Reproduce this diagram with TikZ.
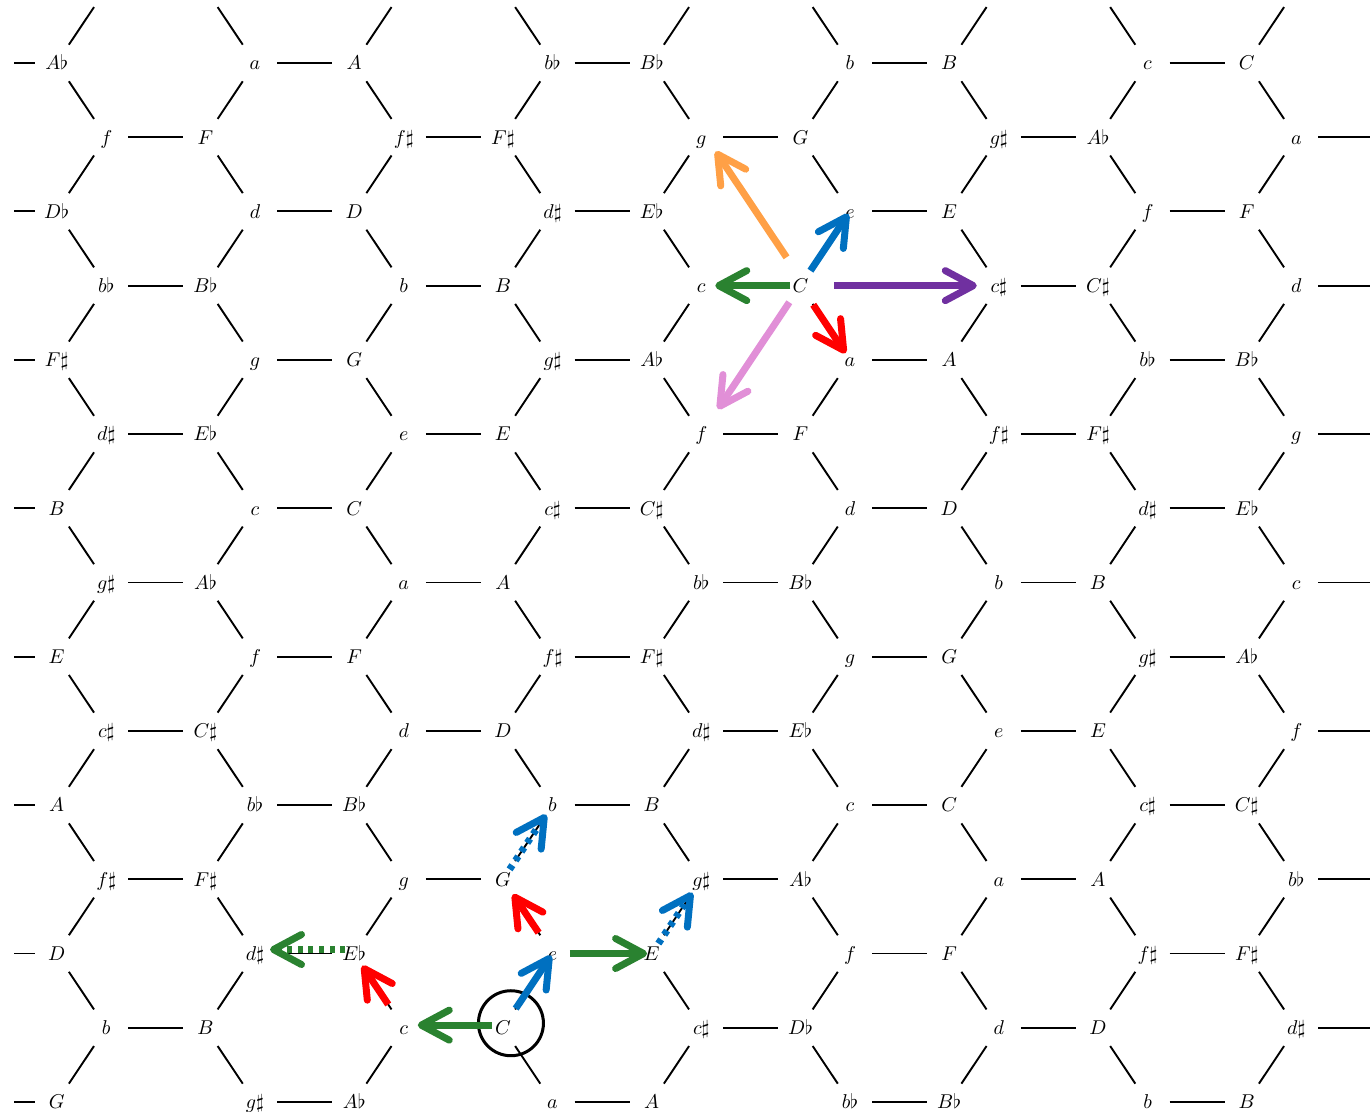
\documentclass[tikz,border=0pt]{standalone}
\usetikzlibrary{arrows.meta}
\definecolor{cOrange}{RGB}{255,160,70}
\definecolor{cBlue}{RGB}{0,112,192}
\definecolor{cGreen}{RGB}{42,130,48}
\definecolor{cPurple}{RGB}{112,48,160}
\definecolor{cRed}{RGB}{255,0,0}
\definecolor{cPink}{RGB}{225,143,215}
\tikzset{
  lab/.style={inner sep=0pt, anchor=center, text height=6.8pt, text depth=0pt, font=\normalsize},
  hexedge/.style={line width=0.95pt, shorten <=11pt, shorten >=11pt},
  arr/.style={line width=3.5pt, -{Straight Barb[length=14pt,width=15pt,round]}},
  dotarr/.style={arr, dash pattern=on 2.5pt off 2.8pt},
  ring/.style={draw, circle, line width=1.5pt, minimum size=32.5pt, inner sep=0pt}
}
\def\accs{\sharp}
\def\accb{\flat}
\def\accn{}
\newcommand\labrow[2]{%
  \foreach \j/\tt/\aa in {#2} {%
    \node[lab] (n-#1-\j) at (v-#1-\j) {$\tt\csname acc\aa\endcsname$};%
  }%
}
\begin{document}
\begin{tikzpicture}[x=0.5pt,y=-0.5pt]
\useasboundingbox (0,0) rectangle (1370,1112);
\begin{scope}
\clip (14,0) rectangle (1370,1112);
% lattice points
\foreach \r in {-2,...,15} {
  \foreach \j in {-1,...,29} {
    \coordinate (v-\r-\j) at ({255+(\j-6)*49.585},{63+\r*74.21});
  }
}
% honeycomb edges (each edge has a lowercase end)
\foreach \r in {-1,...,14} {
  \pgfmathtruncatemacro\pq{mod(\r+2,2)}
  \pgfmathtruncatemacro\ru{\r-1}
  \pgfmathtruncatemacro\rd{\r+1}
  \foreach \m in {0,...,4} {
    \pgfmathtruncatemacro\jj{6*\m+3*\pq}
    \pgfmathtruncatemacro\jr{\jj+2}
    \pgfmathtruncatemacro\jl{\jj-1}
    \draw[hexedge] (v-\r-\jj) -- (v-\r-\jr);
    \draw[hexedge] (v-\r-\jj) -- (v-\ru-\jl);
    \draw[hexedge] (v-\r-\jj) -- (v-\rd-\jl);
  }
}
\end{scope}
% labels
\labrow{0}{2/A/b,6/a/n,8/A/n,12/b/b,14/B/b,18/b/n,20/B/n,24/c/n,26/C/n}
\labrow{1}{3/f/n,5/F/n,9/f/s,11/F/s,15/g/n,17/G/n,21/g/s,23/A/b,27/a/n}
\labrow{2}{2/D/b,6/d/n,8/D/n,12/d/s,14/E/b,18/e/n,20/E/n,24/f/n,26/F/n}
\labrow{3}{3/b/b,5/B/b,9/b/n,11/B/n,15/c/n,17/C/n,21/c/s,23/C/s,27/d/n}
\labrow{4}{2/F/s,6/g/n,8/G/n,12/g/s,14/A/b,18/a/n,20/A/n,24/b/b,26/B/b}
\labrow{5}{3/d/s,5/E/b,9/e/n,11/E/n,15/f/n,17/F/n,21/f/s,23/F/s,27/g/n}
\labrow{6}{2/B/n,6/c/n,8/C/n,12/c/s,14/C/s,18/d/n,20/D/n,24/d/s,26/E/b}
\labrow{7}{3/g/s,5/A/b,9/a/n,11/A/n,15/b/b,17/B/b,21/b/n,23/B/n,27/c/n}
\labrow{8}{2/E/n,6/f/n,8/F/n,12/f/s,14/F/s,18/g/n,20/G/n,24/g/s,26/A/b}
\labrow{9}{3/c/s,5/C/s,9/d/n,11/D/n,15/d/s,17/E/b,21/e/n,23/E/n,27/f/n}
\labrow{10}{2/A/n,6/b/b,8/B/b,12/b/n,14/B/n,18/c/n,20/C/n,24/c/s,26/C/s}
\labrow{11}{3/f/s,5/F/s,9/g/n,11/G/n,15/g/s,17/A/b,21/a/n,23/A/n,27/b/b}
\labrow{12}{2/D/n,6/d/s,8/E/b,12/e/n,14/E/n,18/f/n,20/F/n,24/f/s,26/F/s}
\labrow{13}{3/b/n,5/B/n,9/c/n,11/C/n,15/c/s,17/D/b,21/d/n,23/D/n,27/d/s}
\labrow{14}{2/G/n,6/g/s,8/A/b,12/a/n,14/A/n,18/b/b,20/B/b,24/b/n,26/B/n}
% upper cluster around C
\draw[arr, cOrange, shorten <=17pt, shorten >=8.5pt] ([xshift=2.5pt]n-3-17.center) -- ([xshift=2.5pt]n-1-15.center);
\draw[arr, cBlue,   shorten <=9pt,  shorten >=1.5pt] (n-3-17.center) -- (n-2-18.center);
\draw[arr, cGreen,  shorten <=5pt,  shorten >=7pt]   (n-3-17.center) -- (n-3-15.center);
\draw[arr, cPurple, shorten <=17pt, shorten >=11pt]  (n-3-17.center) -- (n-3-21.center);
\draw[arr, cRed,    shorten <=11.5pt, shorten >=4pt] (n-3-17.center) -- (n-4-18.center);
\draw[arr, cPink,   shorten <=10pt, shorten >=15pt]  (n-3-17.center) -- (n-5-15.center);
% lower cluster around the circled C
\node[ring] (circ) at ([shift={(8,-4.5)}]n-13-11.center) {};
\draw[arr, cGreen,  shorten <=5.5pt, shorten >=7pt]  ([yshift=1.3pt]n-13-11.center) -- ([yshift=1.3pt]n-13-9.center);
\draw[arr, cBlue,   shorten <=11.5pt, shorten >=1.2pt] (n-13-11.center) -- (n-12-12.center);
\draw[arr, cRed,    shorten <=14pt, shorten >=7.3pt] (n-13-9.center) -- (n-12-8.center);
\draw[dotarr, cGreen, shorten <=4.5pt, shorten >=7.5pt] ([yshift=2pt]n-12-8.center) -- ([yshift=2pt]n-12-6.center);
\draw[arr, cRed,    shorten <=12.5pt, shorten >=9pt] (n-12-12.center) -- (n-11-11.center);
\draw[dotarr, cBlue, shorten <=6pt, shorten >=5.7pt] (n-11-11.center) -- (n-10-12.center);
\draw[arr, cGreen,  shorten <=8.7pt, shorten >=2.3pt] (n-12-12.center) -- (n-12-14.center);
\draw[dotarr, cBlue, shorten <=6pt, shorten >=8pt]  (n-12-14.center) -- (n-11-15.center);
\end{tikzpicture}
\end{document}
